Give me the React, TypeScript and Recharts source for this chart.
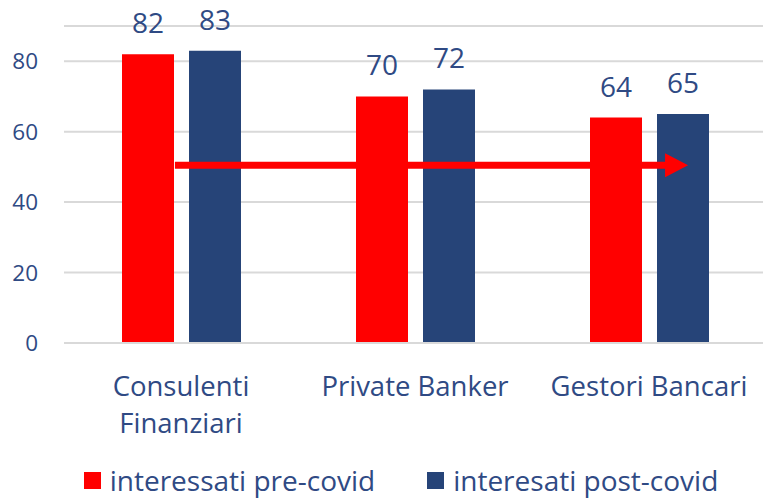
import { BarChart, Bar, XAxis, YAxis, CartesianGrid, LabelList, Legend, ReferenceLine } from 'recharts';

const categoryLines = [['Consulenti', 'Finanziari'], ['Private Banker'], ['Gestori Bancari']];
const categories = categoryLines.map((l) => l.join(' '));
const preCovid = [82, 70, 64];
const postCovid = [83, 72, 65];
const yTicks = [0, 20, 40, 60, 80];
const seriesNames = ['interessati pre-covid', 'interesati post-covid'];
const arrowLevel = 50.5;

const RED = '#FF0000';
const NAVY = '#264478';
const TEXT = '#2F4A84';
const GRID = '#D9D9D9';
const FONT = '"Open Sans", sans-serif';

const data = categories.map((name, i) => ({ name, pre: preCovid[i], post: postCovid[i] }));

function CategoryTick(props: any) {
  const { x, y, payload } = props;
  const lines = categoryLines[payload.index] ?? [payload.value];
  return (
    <text x={x} y={y} textAnchor="middle" fill={TEXT} fontSize={27.5} fontFamily={FONT}>
      {lines.map((line, i) => (
        <tspan key={line} x={x} dy={i === 0 ? 53 : 37}>
          {line}
        </tspan>
      ))}
    </text>
  );
}

// red arrow drawn across the plot, positioned as a share of the plot width
function Arrow(props: any) {
  const { x1, x2, y1 } = props;
  const w = x2 - x1;
  const start = x1 + w * 0.158;
  const tip = x1 + w * 0.889;
  const head = 23;
  return (
    <g>
      <line x1={start} y1={y1} x2={tip - head + 1} y2={y1} stroke={RED} strokeWidth={7} />
      <polygon points={`${tip - head},${y1 - 12} ${tip},${y1} ${tip - head},${y1 + 12}`} fill={RED} />
    </g>
  );
}

function LegendContent() {
  const colors = [RED, NAVY];
  return (
    <div
      style={{
        display: 'flex',
        justifyContent: 'center',
        gap: 52,
        paddingTop: 12,
        paddingLeft: 36,
        fontFamily: FONT,
        lineHeight: '36px',
      }}
    >
      {seriesNames.map((name, i) => (
        <div key={name} style={{ display: 'flex', alignItems: 'center', color: TEXT, fontSize: 28 }}>
          <div style={{ width: 17, height: 17, background: colors[i], marginRight: 9 }} />
          {name}
        </div>
      ))}
    </div>
  );
}

export default function App() {
  return (
    <div style={{ position: 'absolute', left: 0, top: 0, background: '#fff' }}>
      <BarChart
        width={763}
        height={500}
        data={data}
        margin={{ top: 26, right: -3, left: 0, bottom: 0 }}
        barSize={52}
        barGap={15}
      >
        <CartesianGrid vertical={false} stroke={GRID} strokeWidth={2} />
        <XAxis
          dataKey="name"
          axisLine={{ stroke: GRID, strokeWidth: 2 }}
          tickLine={false}
          tickSize={0}
          tickMargin={0}
          height={107}
          interval={0}
          tick={<CategoryTick />}
        />
        <YAxis
          domain={[0, 90]}
          ticks={yTicks}
          width={64}
          axisLine={false}
          tickLine={false}
          tickSize={0}
          tickMargin={26}
          tick={{ fill: TEXT, fontSize: 22.5, fontFamily: FONT }}
        />
        <Bar dataKey="pre" name={seriesNames[0]} fill={RED} isAnimationActive={false}>
          <LabelList dataKey="pre" position="top" offset={21} fill={TEXT} fontSize={28} fontFamily={FONT} />
        </Bar>
        <Bar dataKey="post" name={seriesNames[1]} fill={NAVY} isAnimationActive={false}>
          <LabelList dataKey="post" position="top" offset={21} fill={TEXT} fontSize={28} fontFamily={FONT} />
        </Bar>
        <ReferenceLine y={arrowLevel} shape={<Arrow />} />
        <Legend verticalAlign="bottom" height={50} content={<LegendContent />} />
      </BarChart>
    </div>
  );
}
